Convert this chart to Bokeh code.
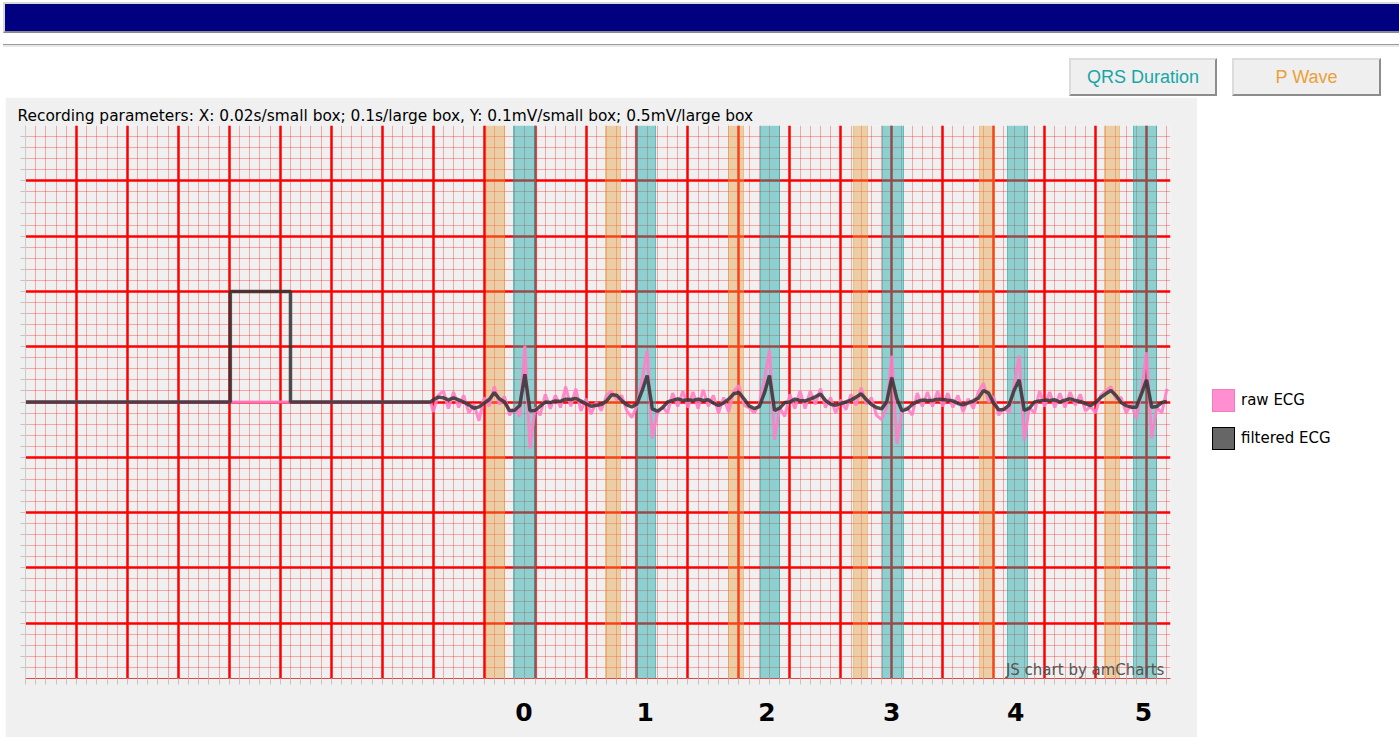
import numpy as np
from bokeh.plotting import figure
from bokeh.models import FixedTicker, Div, Label, Spacer
from bokeh.layouts import column, row
from bokeh.embed import file_html
from bokeh.resources import INLINE

# ---------------- data ----------------
title_text = ("Recording parameters: X: 0.02s/small box; 0.1s/large box, "
              "Y: 0.1mV/small box; 0.5mV/large box")
series_names = ["raw ECG", "filtered ECG"]

# beat numbers shown on the x axis (time in s)
beat_labels = ["0", "1", "2", "3", "4", "5"]
beat_times = [0.978, 1.216, 1.455, 1.700, 1.943, 2.194]

# P wave and QRS duration bands (s)
p_wave_start = [0.905, 1.138, 1.379, 1.624, 1.872, 2.118]
p_wave_end = [0.940, 1.167, 1.410, 1.652, 1.901, 2.146]
qrs_start = [0.957, 1.200, 1.442, 1.682, 1.927, 2.175]
qrs_end = [1.001, 1.236, 1.480, 1.723, 1.966, 2.219]

# calibration pulse (1 mV) before the recording
cal_times = [0.0, 0.402, 0.402, 0.520, 0.520, 0.795]
cal_filtered = [0.0, 0.0, 1.0, 1.0, 0.0, 0.0]
cal_raw_times = [0.0, 0.795]
cal_raw = [0.0, 0.0]

# recording, sampled every 0.01 s from 0.80 s (mV)
ecg_start = 0.80
ecg_step = 0.01
filtered_ecg = [
    0.02, 0.044, 0.038, 0.02, 0.038, 0.02, 0.0, -0.026, -0.056, -0.044,
    -0.01, 0.023, 0.085, 0.029, 0.0, -0.077, -0.074, -0.032, 0.25, -0.08,
    -0.077, -0.038, 0.0, -0.005, 0.01, 0.005, 0.026, 0.023, 0.032, 0.008,
    -0.017, -0.038, -0.029, -0.023, 0.008, 0.065, 0.062, 0.014, -0.026, -0.044,
    -0.017, 0.10, 0.24, -0.062, -0.083, -0.053, 0.0, 0.014, 0.029, 0.014,
    0.02, 0.014, 0.026, 0.014, 0.02, -0.01, -0.032, -0.008, 0.026, 0.074,
    0.086, 0.029, -0.035, -0.059, -0.041, 0.08, 0.24, -0.077, -0.056, -0.005,
    0.0, 0.026, 0.014, 0.01, 0.026, 0.047, 0.071, 0.014, -0.02, -0.029,
    -0.014, 0.0, 0.017, 0.044, 0.074, 0.023, -0.023, -0.05, -0.062, 0.0,
    0.22, 0.03, -0.08, -0.065, -0.023, 0.005, 0.017, 0.014, 0.014, 0.026,
    0.023, 0.017, 0.01, -0.014, -0.026, -0.008, 0.01, 0.035, 0.104, 0.08,
    -0.01, -0.071, -0.068, -0.029, 0.104, 0.2, -0.077, -0.056, 0.0, 0.01,
    0.017, 0.014, 0.02, 0.0, 0.017, 0.029, 0.014, 0.005, -0.014, -0.032,
    -0.005, 0.041, 0.074, 0.104, 0.059, -0.005, -0.032, -0.047, -0.047, 0.074,
    0.2, -0.047, -0.041, -0.005, 0.005,
]
raw_ecg = [
    -0.09, 0.06, 0.1, -0.06, 0.09, -0.05, 0.06, -0.1, -0.02, -0.17,
    0.04, -0.04, 0.14, -0.02, 0.05, -0.12, -0.05, -0.13, 0.51, -0.42,
    -0.05, -0.12, 0.07, -0.06, 0.06, -0.05, 0.14, -0.04, 0.12, -0.08,
    0.03, -0.11, 0.0, -0.08, 0.06, 0.1, 0.02, 0.06, -0.08, -0.14,
    -0.03, 0.2, 0.47, -0.33, -0.1, -0.04, -0.1, 0.08, -0.04, 0.1,
    -0.05, 0.09, -0.06, 0.11, -0.04, 0.06, -0.1, 0.04, -0.09, 0.1,
    0.15, -0.03, -0.05, -0.1, -0.02, 0.2, 0.47, -0.34, -0.05, -0.13,
    0.07, -0.06, 0.1, -0.06, 0.1, -0.02, 0.12, -0.05, 0.04, -0.1,
    0.02, -0.07, 0.07, -0.03, 0.13, -0.02, 0.04, -0.12, -0.16, -0.05,
    0.42, -0.38, -0.08, -0.05, -0.12, 0.08, -0.04, 0.09, -0.04, 0.1,
    -0.04, 0.08, -0.05, 0.06, -0.09, 0.03, -0.06, 0.09, 0.17, 0.0,
    0.05, -0.12, -0.05, -0.1, 0.15, 0.42, -0.35, -0.05, -0.1, 0.1,
    -0.04, 0.09, -0.05, 0.08, -0.05, 0.09, -0.03, 0.07, -0.08, -0.04,
    -0.1, 0.06, 0.1, 0.14, 0.03, 0.04, -0.1, -0.02, -0.15, 0.1,
    0.45, -0.33, -0.05, -0.1, 0.12,
]

# ---------------- build ----------------
ecg_times = list(np.round(ecg_start + ecg_step * np.arange(len(filtered_ecg)), 3))
t_filtered = cal_times + ecg_times
v_filtered = cal_filtered + filtered_ecg
t_raw = cal_raw_times + ecg_times
v_raw = cal_raw + raw_ecg

X_MAX = 2.247
Y_MIN, Y_MAX = -2.5, 2.5
FONT = "DejaVu Sans"

p = figure(width=1192, height=640, x_range=(0, X_MAX), y_range=(Y_MIN, Y_MAX),
           output_backend="svg", toolbar_location=None,
           min_border_left=20, min_border_right=27, min_border_top=28,
           min_border_bottom=59,
           background_fill_color="#f0f0f0", border_fill_color="#f0f0f0",
           outline_line_color=None)

p.title.text = title_text
p.title.text_font = FONT
p.title.text_font_size = "15.4px"
p.title.text_font_style = "normal"
p.title.text_color = "#000000"
p.title.align = "left"
p.title.offset = -8
p.title.standoff = 1

# ECG paper grid
major_x = list(np.round(np.arange(0.1, 2.21, 0.1), 3))
minor_x = list(np.round(np.arange(0.0, X_MAX, 0.02), 3))
major_y = list(np.round(np.arange(-2.0, 2.01, 0.5), 3))
minor_y = list(np.round(np.arange(-2.4, 2.41, 0.1), 3))

p.xgrid.ticker = FixedTicker(ticks=major_x, minor_ticks=minor_x)
p.ygrid.ticker = FixedTicker(ticks=major_y, minor_ticks=minor_y)
for g in (p.xgrid, p.ygrid):
    g.grid_line_color = "#ff0000"
    g.grid_line_width = 2.5
    g.grid_line_alpha = 1.0
    g.minor_grid_line_color = "#ff0000"
    g.minor_grid_line_alpha = 0.3
    g.minor_grid_line_width = 1

# x axis: beat numbers
p.xaxis.ticker = FixedTicker(ticks=beat_times, minor_ticks=minor_x)
p.xaxis.major_label_overrides = {t: lbl for t, lbl in zip(beat_times, beat_labels)}
p.xaxis.axis_line_color = "#e04848"
p.xaxis.axis_line_width = 1
p.xaxis.major_tick_line_color = None
p.xaxis.major_tick_out = 0
p.xaxis.major_tick_in = 0
p.xaxis.minor_tick_out = 6
p.xaxis.minor_tick_in = 0
p.xaxis.minor_tick_line_color = "#c4c4c4"
p.xaxis.major_label_text_font = FONT
p.xaxis.major_label_text_font_size = "25px"
p.xaxis.major_label_text_font_style = "bold"
p.xaxis.major_label_text_color = "#000000"
p.xaxis.major_label_standoff = 18

# y axis: ticks only
p.yaxis.ticker = FixedTicker(ticks=[], minor_ticks=minor_y)
p.yaxis.axis_line_color = "#cccccc"
p.yaxis.major_tick_line_color = None
p.yaxis.minor_tick_out = 5
p.yaxis.minor_tick_in = 0
p.yaxis.minor_tick_line_color = "#c4c4c4"

# bands
p.vstrip(x0=p_wave_start, x1=p_wave_end, fill_color="#e8a040", fill_alpha=0.42,
         line_color="#e89a30", line_alpha=0.45, line_width=1)
p.vstrip(x0=qrs_start, x1=qrs_end, fill_color="#16a8a8", fill_alpha=0.45,
         line_color="#10a0a0", line_alpha=0.55, line_width=1)

# series
p.line(t_raw, v_raw, line_color="#ff7ec6", line_width=3, line_alpha=0.9)
p.line(t_filtered, v_filtered, line_color="#333333", line_width=3.5, line_alpha=0.85)

p.add_layout(Label(x=2.235, y=-2.419, text="JS chart by amCharts", text_align="right",
                   text_baseline="alphabetic", text_font=FONT, text_font_size="15px",
                   text_color="#555555"))

header_html = """
<div style="position:relative;width:1399px;height:97px;font-family:'Liberation Sans',Arial,sans-serif;">
  <div style="position:absolute;left:3px;top:2px;width:1396px;height:31px;box-sizing:border-box;
       background:#000080;border-top:2px solid #d8d8d8;border-left:2px solid #d8d8d8;
       border-bottom:2px solid #8a8a8a;"></div>
  <div style="position:absolute;left:3px;top:44px;width:1396px;height:1px;background:#9a9a9a;"></div>
  <div style="position:absolute;left:3px;top:45px;width:1396px;height:2px;background:#e8e8e8;"></div>
  <div style="position:absolute;left:1069px;top:58px;width:148px;height:38px;box-sizing:border-box;
       background:#efefef;border-top:2px solid #dcdcdc;border-left:2px solid #dcdcdc;
       border-bottom:2px solid #8c8c8c;border-right:2px solid #8c8c8c;
       color:#17a6a6;font-size:18px;line-height:34px;text-align:center;">QRS Duration</div>
  <div style="position:absolute;left:1232px;top:58px;width:149px;height:38px;box-sizing:border-box;
       background:#efefef;border-top:2px solid #dcdcdc;border-left:2px solid #dcdcdc;
       border-bottom:2px solid #8c8c8c;border-right:2px solid #8c8c8c;
       color:#eba03a;font-size:18px;line-height:34px;text-align:center;">P Wave</div>
</div>
"""
header = Div(text=header_html, width=1391, height=97, margin=0,
             styles={"overflow": "visible"})

legend_html = f"""
<div style="position:relative;width:194px;height:640px;font-family:'DejaVu Sans',sans-serif;font-size:15px;color:#000;">
  <div style="position:absolute;left:15px;top:292px;width:23px;height:23px;box-sizing:border-box;
       background:#ff8fd0;border:1px solid #f07cbd;"></div>
  <div style="position:absolute;left:44px;top:292px;line-height:23px;white-space:nowrap;">{series_names[0]}</div>
  <div style="position:absolute;left:15px;top:330px;width:23px;height:23px;box-sizing:border-box;
       background:#666666;border:1.5px solid #000;"></div>
  <div style="position:absolute;left:44px;top:330px;line-height:23px;white-space:nowrap;">{series_names[1]}</div>
</div>
"""
legend = Div(text=legend_html, width=194, height=640, margin=0,
             styles={"overflow": "visible"})

layout = column(header, row(Spacer(width=5, height=640, margin=0), p, legend))
open("out.html", "w").write(file_html(layout, INLINE))
